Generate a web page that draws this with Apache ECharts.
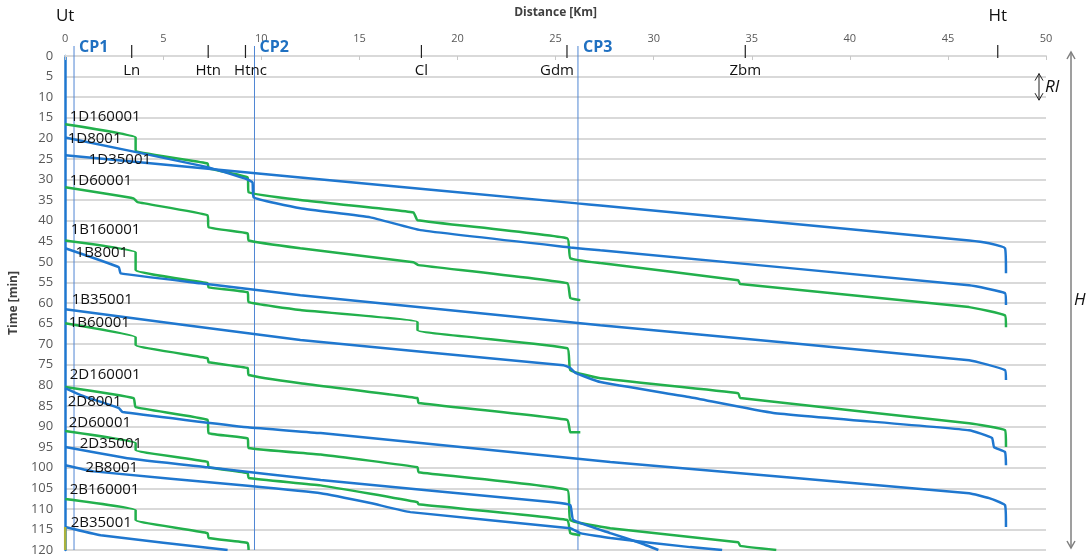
<!DOCTYPE html>
<html>
<head>
<meta charset="utf-8">
<script src="https://cdn.jsdelivr.net/npm/echarts@6/dist/echarts.min.js"></script>
<style>
html,body{margin:0;padding:0;background:#fff;}
#c{width:1091px;height:559px;}
</style>
</head>
<body>
<div id="c"></div>
<script>
// ---------- DATA (distance km, time min) ----------
const s1D160001 = [[0,16.6],[3.59,19.8],[3.59,22.9],[7.26,26.1],[7.31,27.3],[9.30,29.5],[9.35,33.1],[11.99,35.0],[17.75,38.0],[17.96,39.9],[25.60,44.3],[25.75,49.1],[27.28,50.3],[34.31,54.5],[34.41,55.4],[46.08,61.0],[47.91,63.0],[47.96,65.9]];
const s1D60001  = [[0,31.9],[3.49,34.6],[3.69,35.5],[7.26,38.7],[7.31,41.6],[9.30,43.1],[9.35,44.8],[11.99,46.7],[17.75,50.1],[18.01,50.8],[25.60,55.2],[25.75,58.8],[26.26,59.3]];
const s1B160001 = [[0,44.8],[3.59,47.7],[3.59,52.0],[7.26,55.2],[7.31,56.2],[9.30,57.4],[9.35,59.8],[11.99,61.7],[17.96,64.6],[17.96,66.6],[25.60,71.0],[25.75,76.3],[27.28,78.3],[34.31,81.9],[34.41,83.1],[46.08,89.2],[47.91,90.9],[47.96,95.0]];
const s1B60001  = [[0,64.9],[3.59,68.3],[3.59,70.2],[7.26,73.4],[7.31,74.4],[9.30,75.8],[9.35,77.5],[11.99,79.5],[17.96,83.1],[18.01,84.3],[25.60,88.4],[25.75,91.4],[26.26,91.4]];
const s2D160001 = [[0,80.4],[3.49,83.1],[3.59,85.3],[7.26,88.4],[7.31,91.6],[9.30,92.9],[9.35,95.2],[13.02,96.8],[17.96,99.9],[18.01,101.1],[25.60,105.4],[25.75,112.7],[27.79,114.7],[34.31,118.1],[34.41,119.0],[36.25,120]];
const s2D60001  = [[0,91.1],[3.59,94.0],[3.59,95.7],[7.26,98.6],[7.31,99.9],[9.30,101.3],[9.35,102.5],[13.02,104.3],[17.96,108.4],[18.01,108.9],[25.60,112.7],[25.75,115.9],[26.26,116.4]];
const s2B160001 = [[0,107.6],[3.59,110.3],[3.59,112.7],[7.26,115.9],[7.31,117.1],[9.30,118.3],[9.35,120]];

const s1D8001  = [[0,19.8],[7.26,27.0],[9.30,30.0],[9.55,30.7],[9.60,34.3],[11.99,37.0],[15.56,39.2],[18.11,42.3],[25.75,46.5],[27.28,47.2],[46.08,55.7],[47.91,57.6],[47.96,60.5]];
const s1D35001 = [[0,24.1],[11.99,29.5],[26.11,35.8],[27.28,36.3],[46.08,44.8],[47.10,45.5],[47.91,46.7],[47.96,52.8]];
const s1B8001  = [[0,46.7],[2.73,51.3],[2.83,52.8],[6.90,55.2],[11.99,58.1],[27.28,65.4],[46.08,73.9],[47.91,76.3],[47.96,78.7]];
const s1B35001 = [[0,61.5],[11.99,69.0],[25.40,75.1],[25.75,75.8],[26.01,77.0],[27.28,79.2],[31.86,82.9],[36.10,86.7],[46.08,90.9],[47.25,92.8],[47.35,95.0],[47.91,96.2],[47.96,99.4]];
const s2D8001  = [[0,80.7],[0.79,82.4],[2.73,85.5],[2.93,86.5],[9.30,90.2],[13.02,91.6],[27.79,98.6],[46.08,106.2],[47.10,107.4],[47.91,109.1],[47.96,114.4]];
const s2D35001 = [[0,95.0],[3.16,97.7],[7.26,99.9],[13.02,103.0],[24.89,108.4],[25.75,109.1],[25.90,112.7],[27.79,115.9],[29.32,118.3],[30.24,120]];
const s2B8001  = [[0,99.4],[1.45,100.9],[9.30,104.4],[13.02,106.2],[15.56,108.6],[17.60,110.8],[25.75,114.7],[26.26,115.9],[27.79,117.1],[31.86,119.3],[33.49,120]];
const s2B35001 = [[0,114.4],[1.81,116.4],[8.28,120]];
const sUtWait  = [[0,114.4],[0,120]];

const greenTrains = [s1D160001, s1D60001, s1B160001, s1B60001, s2D160001, s2D60001, s2B160001];
const blueTrains  = [s1D8001, s1D35001, s1B8001, s1B35001, s2D8001, s2D35001, s2B8001, s2B35001];

const stationNames = ['Ln','Htn','Htnc','Cl','Gdm','Zbm','Ht'];
const stationKm    = [3.39, 7.29, 9.19, 18.16, 25.58, 34.67, 47.54];
const terminalNames = ['Ut','Ht'];
const terminalKm    = [0, 47.54];
const cpNames = ['CP1','CP2','CP3'];
const cpKm    = [0.45, 9.65, 26.14];

const labelNames = ['1D160001','1D8001','1D35001','1D60001','1B160001','1B8001','1B35001','1B60001','2D160001','2D8001','2D60001','2D35001','2B8001','2B160001','2B35001'];
const labelKm    = [0.23, 0.13, 1.2, 0.23, 0.28, 0.53, 0.33, 0.18, 0.23, 0.13, 0.18, 0.74, 1.04, 0.23, 0.28];
const labelMin   = [14.7, 20.0, 25.1, 30.2, 42.3, 47.9, 59.3, 64.9, 77.5, 84.1, 89.2, 94.1, 99.9, 105.4, 113.4];

const xMin = 0, xMax = 50, xStep = 5;
const yMin = 0, yMax = 120, yStep = 5;
const riFrom = 5, riTo = 10;
const hFrom = 0, hTo = 120;

// ---------- STYLE ----------
const FONT = '"Open Sans", "Liberation Sans", sans-serif';
const GREEN = '#22b04c';
const BLUE = '#1f77cf';
const SMOOTH = 0.12;
const labelDx = {Gdm:-10, Htnc:5};

const chart = echarts.init(document.getElementById('c'), null, {renderer:'canvas'});

const series = [];
greenTrains.forEach(d => series.push({type:'line', data:d, showSymbol:false, symbol:'none', silent:true, z:5, smooth:SMOOTH,
  lineStyle:{color:GREEN, width:2.5}, emphasis:{disabled:true}}));
blueTrains.forEach(d => series.push({type:'line', data:d, showSymbol:false, symbol:'none', silent:true, z:6, smooth:SMOOTH,
  lineStyle:{color:BLUE, width:2.5}, emphasis:{disabled:true}}));
series.push({type:'line', data:sUtWait, showSymbol:false, symbol:'none', silent:true, z:7,
  lineStyle:{color:'#a9b23c', width:2.5}});

// CP lines
series.push({type:'custom', z:3, silent:true, clip:false,
  data: cpKm.map(k => [k, 0]),
  renderItem: function(params, api){
    const p0 = api.coord([api.value(0), yMin]);
    const p1 = api.coord([api.value(0), yMax]);
    return {type:'group', children:[
      {type:'line', shape:{x1:p0[0], y1:p0[1]-10, x2:p0[0], y2:p1[1]}, style:{stroke:'#4f86d4', lineWidth:1}},
      {type:'text', style:{text:cpNames[params.dataIndex], x:p0[0]+5, y:p0[1]-9, align:'left', verticalAlign:'middle',
        font:'bold 16px ' + FONT, fill:'#1f70c1'}}
    ]};
  }
});
// Station ticks and names
series.push({type:'custom', z:8, silent:true, clip:false,
  data: stationKm.map(k => [k, 0]),
  renderItem: function(params, api){
    const p = api.coord([api.value(0), yMin]);
    const name = stationNames[params.dataIndex];
    const ch = [{type:'line', shape:{x1:p[0], y1:p[1]-11, x2:p[0], y2:p[1]+2}, style:{stroke:'#222', lineWidth:1.2}}];
    if (name !== 'Ht') {
      ch.push({type:'text', style:{text:name, x:p[0]+(labelDx[name]||0), y:p[1]+15, align:'center', verticalAlign:'middle',
        font:'15px ' + FONT, fill:'#111'}});
    }
    return {type:'group', children:ch};
  }
});
// Terminal names above axis
series.push({type:'custom', z:8, silent:true, clip:false,
  data: terminalKm.map(k => [k, 0]),
  renderItem: function(params, api){
    const p = api.coord([api.value(0), yMin]);
    return {type:'text', style:{text:terminalNames[params.dataIndex], x:p[0], y:p[1]-40, align:'center', verticalAlign:'middle',
      font:'17px ' + FONT, fill:'#111'}};
  }
});
// Train labels
series.push({type:'custom', z:9, silent:true, clip:false,
  data: labelKm.map((k,i) => [k, labelMin[i]]),
  renderItem: function(params, api){
    const p = api.coord([api.value(0), api.value(1)]);
    return {type:'text', style:{text:labelNames[params.dataIndex], x:p[0], y:p[1], align:'left', verticalAlign:'middle',
      font:'15px ' + FONT, fill:'#111'}};
  }
});

chart.setOption({
  animation:false,
  grid:{left:64, right:45, top:56, bottom:9, containLabel:false},
  xAxis:{type:'value', position:'top', min:xMin, max:xMax, interval:xStep,
    axisLine:{show:true, onZero:false, lineStyle:{color:'#d9d9d9', width:2}},
    axisTick:{show:true, inside:true, length:4, lineStyle:{color:'#c8c8c8'}},
    axisLabel:{color:'#595959', fontSize:11, margin:12, fontFamily:FONT},
    splitLine:{show:false},
    name:'Distance [Km]', nameLocation:'middle', nameGap:37,
    nameTextStyle:{fontWeight:'bold', fontSize:12, color:'#404040', fontFamily:FONT}},
  yAxis:{type:'value', inverse:true, min:yMin, max:yMax, interval:yStep,
    axisLine:{show:true, onZero:false, lineStyle:{color:BLUE, width:2.5}},
    axisTick:{show:false},
    axisLabel:{color:'#595959', fontSize:13, margin:12, fontFamily:FONT},
    splitLine:{show:true, lineStyle:{color:'#d9d9d9', width:2}},
    name:'Time [min]', nameLocation:'middle', nameGap:44,
    nameTextStyle:{fontWeight:'bold', fontSize:12, color:'#404040', fontFamily:FONT}},
  series: series
});

function vArrow(x, y1, y2, color, lw){
  return [
    {type:'line', shape:{x1:x, y1:y1, x2:x, y2:y2}, style:{stroke:color, lineWidth:lw}},
    {type:'polyline', shape:{points:[[x-4,y1+7],[x,y1],[x+4,y1+7]]}, style:{stroke:color, lineWidth:lw, fill:null}},
    {type:'polyline', shape:{points:[[x-4,y2-7],[x,y2],[x+4,y2-7]]}, style:{stroke:color, lineWidth:lw, fill:null}}
  ];
}
const riY1 = chart.convertToPixel({gridIndex:0}, [0, riFrom])[1] - 3;
const riY2 = chart.convertToPixel({gridIndex:0}, [0, riTo])[1] + 3;
const hY1 = chart.convertToPixel({gridIndex:0}, [0, hFrom])[1] - 4;
const hY2 = chart.convertToPixel({gridIndex:0}, [0, hTo])[1] - 2;
const riX = 1039, hX = 1071;
chart.setOption({graphic:[].concat(
  vArrow(riX, riY1, riY2, '#222', 1),
  vArrow(hX, hY1, hY2, '#7f7f7f', 1.5),
  [
    {type:'text', style:{text:'RI', x:riX+6, y:(riY1+riY2)/2, align:'left', verticalAlign:'middle', font:'italic 17px ' + FONT, fill:'#111'}},
    {type:'text', style:{text:'H', x:hX+3, y:(hY1+hY2)/2, align:'left', verticalAlign:'middle', font:'italic 17px ' + FONT, fill:'#111'}}
  ]
)});
</script>
</body>
</html>
